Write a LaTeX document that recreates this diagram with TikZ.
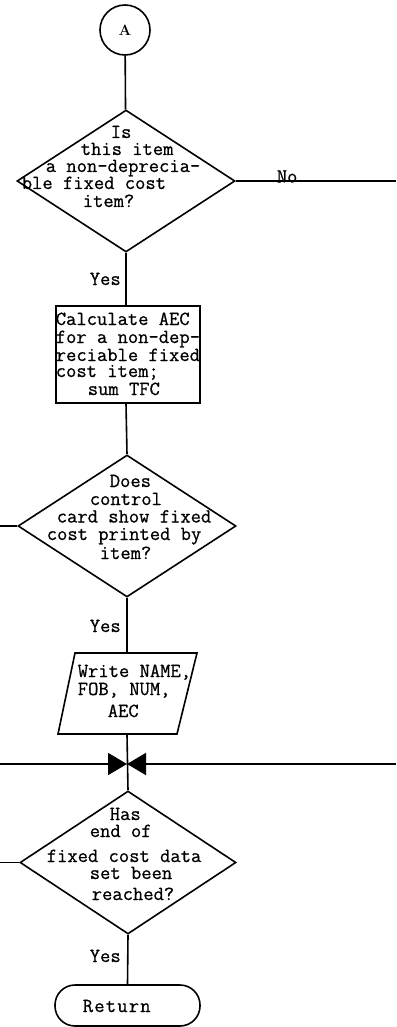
\documentclass[tikz,border=0pt]{standalone}
\usepackage{fontspec}
\setmonofont{Latin Modern Mono}[FakeBold=0.7]
\usetikzlibrary{shapes.geometric,arrows.meta}
% stacked typewriter lines: each line has its own indent and the gap to the next baseline
\newcommand\tline[2]{\hbox{\hspace*{#1pt}\smash{#2}}}
\newcommand\tgap[1]{\vskip#1pt}
\newcommand\tblock[1]{\vtop{\offinterlineskip#1}}
\begin{document}
\begin{tikzpicture}[x=1pt,y=-1pt,line width=1.6pt,
  decision/.style={draw,diamond,inner sep=0pt,minimum width=218pt,minimum height=142pt},
  process/.style={draw,rectangle,inner sep=0pt,minimum width=144pt,minimum height=97pt},
  terminal/.style={draw,rectangle,rounded corners=20pt,inner sep=0pt,minimum width=145pt,minimum height=41pt},
  iobox/.style={inner sep=0pt,minimum width=120pt,minimum height=81pt},
  connector/.style={draw,circle,inner sep=0pt,minimum size=50pt,font=\fontsize{15}{15}\selectfont\bfseries},
  tt/.style={inner sep=0pt,anchor=base west,font=\fontsize{20}{20}\selectfont\ttfamily},
  junctiontip/.style={-{Triangle[length=19pt,width=22pt]}}
]
\useasboundingbox (0,0) rectangle (396,1027);

% entry connector
\node[connector] (A) at (125,30) {A};

% first decision
\node[decision] (d1) at (126,181) {};
\node[tt] (d1t) at (21,138) {\tblock{\tline{89}{Is}\tgap{17}\tline{59}{this item}\tgap{17}\tline{24}{a non-deprecia-}\tgap{17}\tline{0}{ble fixed cost}\tgap{18}\tline{61}{item?}}};
\coordinate (noend) at (396,181);
\node[tt] (no) at (276,182.5) {No};
\node[tt] (y1) at (89,285) {Yes};

% AEC calculation
\node[process] (calc) at (128,354.5) {};
\node[tt] (calct) at (55,325) {\tblock{\tline{0}{Calculate AEC}\tgap{18}\tline{0}{for a non-dep-}\tgap{18}\tline{0}{reciable fixed}\tgap{16}\tline{0}{cost item;}\tgap{18}\tline{32}{sum TFC}}};

% second decision
\node[decision] (d2) at (127,526) {};
\node[tt] (d2t) at (46,487) {\tblock{\tline{63}{Does}\tgap{18}\tline{43}{control}\tgap{17.5}\tline{10}{card show fixed}\tgap{17.5}\tline{0}{cost printed by}\tgap{19}\tline{53}{item?}}};
\coordinate (d2l) at (0,526);
\node[tt] (y2) at (89,632) {Yes};

% output
\node[iobox] (out) at (127,693.5) {};
\draw (75,653) -- (197,653) -- (177,734) -- (58,734) -- cycle;
\node[tt] (outt) at (77,677) {\tblock{\tline{0}{Write NAME,}\tgap{18}\tline{0}{FOB, NUM,}\tgap{22}\tline{30}{AEC}}};

% junction
\coordinate (j) at (127,764);
\coordinate (jl) at (0,764);
\coordinate (jr) at (396,764);

% third decision
\node[decision,minimum width=216pt,minimum height=143pt] (d3) at (128,862.5) {};
\node[tt] (d3t) at (46,820) {\tblock{\tline{63}{Has}\tgap{17}\tline{43}{end of}\tgap{25}\tline{0}{fixed cost data}\tgap{17}\tline{43}{set been}\tgap{21}\tline{45}{reached?}}};
\coordinate (d3l) at (0,862.5);
\node[tt] (y3) at (89,962) {Yes};

% return
\node[terminal] (ret) at (127.5,1005.5) {};
\node[tt] (rett) at (82,1012) {\addfontfeatures{LetterSpace=6}Return};

% connectors
\draw (A) -- (d1);
\draw (d1.east) -- (noend);
\draw (d1.south) -- (d1.south |- calc.north);
\draw (d1.south |- calc.south) -- (d2.north);
\draw (d2.west) -- (d2l);
\draw (d2.south) -- (out.north);
\draw (out.south) -- (d3.north);
\draw[junctiontip] (jl) -- (j);
\draw[junctiontip] (jr) -- (j);
\draw (d3.west) -- (d3l);
\draw (d3.south) -- (ret.north);
\end{tikzpicture}
\end{document}
